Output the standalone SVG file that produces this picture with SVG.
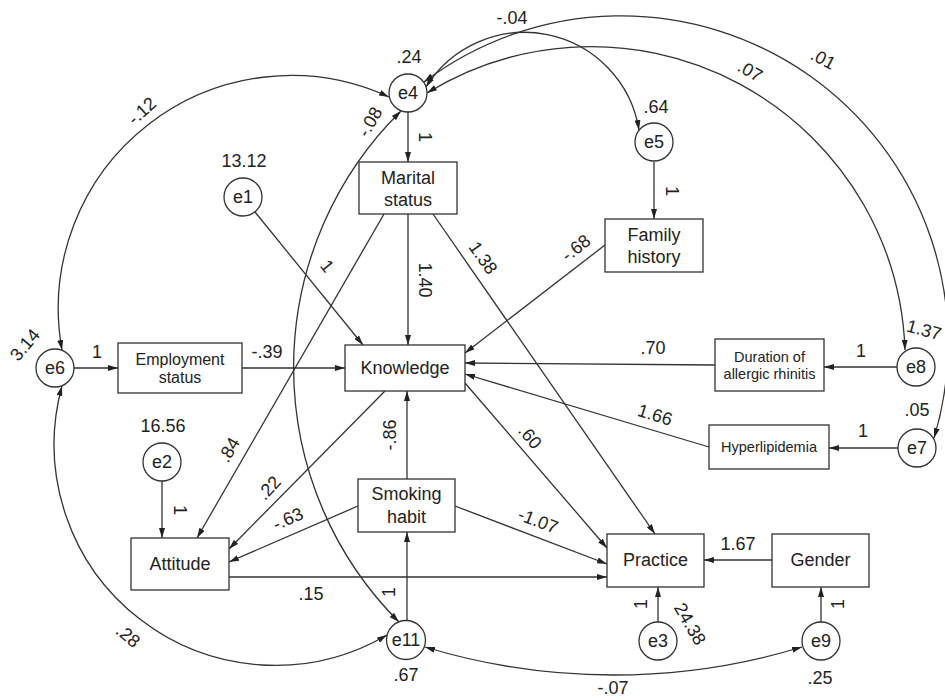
<svg xmlns="http://www.w3.org/2000/svg" width="945" height="700" viewBox="0 0 945 700">
<style>
text{font-family:"Liberation Sans",Arial,sans-serif;fill:#222;font-size:18px;text-anchor:middle;dominant-baseline:central}
.n rect,.n circle{fill:#fff;stroke:#333;stroke-width:1.3}
.c path{fill:none;stroke:#333;stroke-width:1.3;marker-end:url(#ah)}
.c path.cv{marker-start:url(#ah)}
.s15{font-size:16px}.s14{font-size:14.5px}
</style>
<defs>
<marker id="ah" viewBox="0 0 10 6" refX="10" refY="3" markerWidth="10" markerHeight="6" orient="auto-start-reverse" markerUnits="userSpaceOnUse"><path d="M0,0 L10,3 L0,6 z" fill="#222"/></marker>
</defs>
<rect width="945" height="700" fill="#fff"/>
<g id="connectors" class="c">
<path d="M408,112 L408,162"/>
<path d="M654,162 L654,219"/>
<path d="M255,212 L363,345"/>
<path d="M408,214 L408,345"/>
<path d="M433,214 L655,534"/>
<path d="M384,214 L197,538"/>
<path d="M605,245 L465,353"/>
<path d="M242,368 L345,368"/>
<path d="M715,365 L465,363"/>
<path d="M709,447 L465,374"/>
<path d="M385,391 L229,549"/>
<path d="M465,383 L607,548"/>
<path d="M407,479 L407,391"/>
<path d="M358,506 L229,562"/>
<path d="M455,506 L607,564"/>
<path d="M229,577 L607,577"/>
<path d="M407,620 L407,532"/>
<path d="M772,560 L704,560"/>
<path d="M658,622 L658,587"/>
<path d="M821,622 L821,587"/>
<path d="M897,367 L824,367"/>
<path d="M898,448 L829,448"/>
<path d="M162,481 L162,538"/>
<path d="M74,368 L118,368"/>
<path class="cv" d="M62,350 A233,233 0 0 1 389,97"/>
<path class="cv" d="M62,386 A221,221 0 0 0 387,635"/>
<path class="cv" d="M401,111 A360,360 0 0 0 399,622"/>
<path class="cv" d="M426,87 A116,116 0 0 1 639,130"/>
<path class="cv" d="M427,93 A314,314 0 0 1 905,350"/>
<path class="cv" d="M424,82 A327,327 0 0 1 934,438"/>
<path class="cv" d="M425,647 A648,648 0 0 0 802,647"/>
</g>
<g id="e4" class="n"><circle cx="408" cy="93" r="19"/><text x="408" y="93">e4</text></g>
<g id="e5" class="n"><circle cx="654" cy="142" r="19"/><text x="654" y="142">e5</text></g>
<g id="e1" class="n"><circle cx="243" cy="197" r="19"/><text x="243" y="197">e1</text></g>
<g id="e6" class="n"><circle cx="55" cy="368" r="19"/><text x="55" y="368">e6</text></g>
<g id="e2" class="n"><circle cx="162" cy="462" r="19"/><text x="162" y="462">e2</text></g>
<g id="e11" class="n"><circle cx="406" cy="640" r="19.5"/><text x="406" y="640">e11</text></g>
<g id="e3" class="n"><circle cx="658" cy="641" r="19"/><text x="658" y="641">e3</text></g>
<g id="e9" class="n"><circle cx="821" cy="641" r="19"/><text x="821" y="641">e9</text></g>
<g id="e8" class="n"><circle cx="916" cy="367" r="19"/><text x="916" y="367">e8</text></g>
<g id="e7" class="n"><circle cx="917" cy="448" r="19"/><text x="917" y="448">e7</text></g>
<g id="marital" class="n"><rect x="359" y="162" width="98" height="52"/><text x="408" y="178">Marital</text><text x="408" y="200">status</text></g>
<g id="family" class="n"><rect x="605" y="219" width="98" height="53"/><text x="654" y="235">Family</text><text x="654" y="257">history</text></g>
<g id="employment" class="n"><rect x="118" y="343" width="124" height="50"/><text class="s15" x="180" y="359">Employment</text><text class="s15" x="180" y="377">status</text></g>
<g id="knowledge" class="n"><rect x="345" y="345" width="120" height="46"/><text x="405" y="368">Knowledge</text></g>
<g id="duration" class="n"><rect x="715" y="339" width="109" height="52"/><text class="s14" x="769.5" y="357">Duration of</text><text class="s14" x="769.5" y="374">allergic rhinitis</text></g>
<g id="hyper" class="n"><rect x="709" y="425" width="120" height="44"/><text class="s14" x="769" y="447">Hyperlipidemia</text></g>
<g id="smoking" class="n"><rect x="358" y="479" width="97" height="53"/><text x="406.5" y="494">Smoking</text><text x="406.5" y="517">habit</text></g>
<g id="attitude" class="n"><rect x="131" y="538" width="98" height="52"/><text x="180" y="564">Attitude</text></g>
<g id="practice" class="n"><rect x="607" y="534" width="97" height="53"/><text x="655.5" y="560">Practice</text></g>
<g id="gender" class="n"><rect x="772" y="534" width="97" height="53"/><text x="820.5" y="560">Gender</text></g>
<g id="labels">
<text x="409" y="57">.24</text>
<text x="244" y="161">13.12</text>
<text x="512" y="18">-.04</text>
<text x="656" y="107">.64</text>
<text transform="translate(750,71) rotate(30)">.07</text>
<text transform="translate(823,59) rotate(28)">.01</text>
<text transform="translate(142,111) rotate(-42)">-.12</text>
<text transform="translate(370,122) rotate(-60)">-.08</text>
<text transform="translate(425,137) rotate(90)">1</text>
<text transform="translate(672,191) rotate(90)">1</text>
<text transform="translate(425,280) rotate(90)">1.40</text>
<text transform="translate(483,258) rotate(55)">1.38</text>
<text transform="translate(576,248) rotate(-38)">-.68</text>
<text transform="translate(327,266) rotate(51)">1</text>
<text x="267" y="352">-.39</text>
<text x="97" y="352">1</text>
<text transform="translate(25,345) rotate(-50)">3.14</text>
<text transform="translate(229,450) rotate(-60)">.84</text>
<text transform="translate(390,435) rotate(-90)">-.86</text>
<text x="163" y="426">16.56</text>
<text transform="translate(269,488) rotate(-48)">.22</text>
<text transform="translate(288,519) rotate(-24)">-.63</text>
<text transform="translate(180,510) rotate(90)">1</text>
<text x="311" y="594">.15</text>
<text transform="translate(389,592) rotate(-90)">1</text>
<text transform="translate(128,636) rotate(40)">.28</text>
<text x="406" y="675">.67</text>
<text transform="translate(530,437) rotate(50)">.60</text>
<text x="653" y="348">.70</text>
<text x="861" y="351">1</text>
<text transform="translate(924,330) rotate(15)">1.37</text>
<text transform="translate(655,415) rotate(17)">1.66</text>
<text x="917" y="410">.05</text>
<text x="863" y="431">1</text>
<text transform="translate(538,521) rotate(21)">-1.07</text>
<text x="738" y="544">1.67</text>
<text transform="translate(641,604) rotate(-90)">1</text>
<text transform="translate(690,624) rotate(60)">24.38</text>
<text transform="translate(838,604) rotate(-90)">1</text>
<text x="820" y="678">.25</text>
<text x="613" y="688">-.07</text>
</g>
</svg>
